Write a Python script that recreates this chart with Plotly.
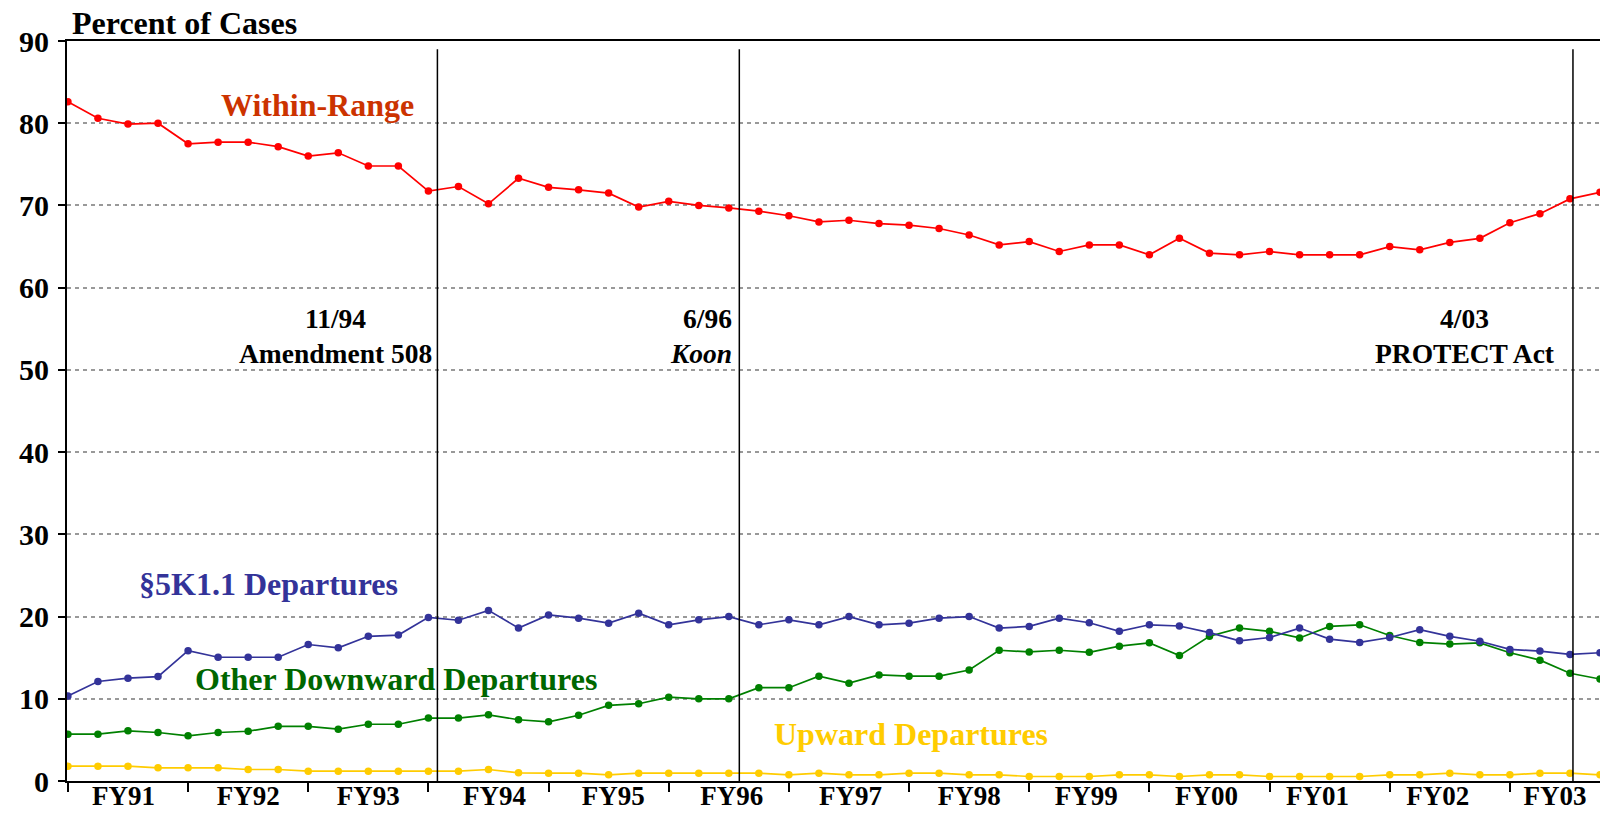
import plotly.graph_objects as go

fiscal_years = ["FY91", "FY92", "FY93", "FY94", "FY95", "FY96", "FY97",
                "FY98", "FY99", "FY00", "FY01", "FY02", "FY03"]
quarters_per_year = 4
quarter_index = list(range(len(fiscal_years) * quarters_per_year))
# positions (in quarters) where the fiscal-year labels sit
year_label_pos = [1.85, 6.0, 10.0, 14.2, 18.15, 22.1, 26.05, 30.0, 33.9, 37.9, 41.6, 45.6, 49.5]
year_bounds = [i * quarters_per_year for i in range(len(fiscal_years))]

within_range = [82.6, 80.6, 79.9, 80.0, 77.5, 77.7, 77.7, 77.15, 76.0, 76.4, 74.8, 74.8,
                71.75, 72.3, 70.2, 73.3, 72.2, 71.9, 71.5, 69.8, 70.5, 70.0, 69.7, 69.3,
                68.75, 68.0, 68.2, 67.8, 67.6, 67.2, 66.4, 65.2, 65.6, 64.4, 65.2, 65.2,
                64.0, 66.0, 64.2, 64.0, 64.4, 64.0, 64.0, 64.0, 65.0, 64.6, 65.5, 66.0,
                67.9, 69.0, 70.8, 71.6]
sk_departures = [10.33, 12.1, 12.5, 12.7, 15.85, 15.05, 15.05, 15.05, 16.6, 16.2, 17.6, 17.75,
                 19.9, 19.55, 20.75, 18.6, 20.2, 19.8, 19.2, 20.4, 19.0, 19.6, 20.0, 19.0,
                 19.6, 19.0, 20.0, 19.0, 19.2, 19.8, 20.0, 18.6, 18.8, 19.8, 19.25, 18.2,
                 19.0, 18.85, 18.05, 17.05, 17.45, 18.6, 17.25, 16.85, 17.45, 18.4, 17.6, 17.0,
                 16.0, 15.8, 15.4, 15.6]
other_downward = [5.7, 5.7, 6.1, 5.9, 5.5, 5.9, 6.05, 6.65, 6.65, 6.3, 6.9, 6.9,
                  7.65, 7.65, 8.05, 7.45, 7.2, 8.0, 9.2, 9.4, 10.2, 10.0, 10.0, 11.35,
                  11.35, 12.75, 11.9, 12.9, 12.75, 12.75, 13.5, 15.9, 15.7, 15.9, 15.65, 16.4,
                  16.8, 15.25, 17.6, 18.6, 18.2, 17.4, 18.8, 19.0, 17.7, 16.85, 16.65, 16.8,
                  15.6, 14.7, 13.1, 12.4]
upward = [1.8, 1.8, 1.8, 1.6, 1.6, 1.6, 1.4, 1.4, 1.2, 1.2, 1.2, 1.2,
          1.2, 1.2, 1.4, 1.0, 0.95, 0.95, 0.75, 0.95, 0.95, 0.95, 0.95, 0.95,
          0.75, 0.95, 0.75, 0.75, 0.95, 0.95, 0.75, 0.75, 0.55, 0.55, 0.55, 0.75,
          0.75, 0.55, 0.75, 0.75, 0.55, 0.55, 0.55, 0.55, 0.75, 0.75, 0.95, 0.75,
          0.75, 0.95, 0.95, 0.75]

event_positions = [12.3, 22.35, 50.1]
event_dates = ["11/94", "6/96", "4/03"]
event_names = ["Amendment 508", "Koon", "PROTECT Act"]

FONT = "Liberation Serif, Times New Roman, serif"

fig = go.Figure()
series = [
    (upward, "#FFCC00", "Upward Departures"),
    (other_downward, "#008000", "Other Downward Departures"),
    (sk_departures, "#333399", "§5K1.1 Departures"),
    (within_range, "#FF0000", "Within-Range"),
]
for vals, col, name in series:
    fig.add_trace(go.Scatter(x=quarter_index, y=vals, mode="lines+markers", name=name,
                             line=dict(color=col, width=1.7),
                             marker=dict(color=col, size=7.5), showlegend=False))

for xp in event_positions:
    fig.add_shape(type="line", xref="x", yref="y", x0=xp, x1=xp, y0=0, y1=89,
                  line=dict(color="black", width=1.5), layer="above")

ann_font = dict(family=FONT, size=27.5, color="black", weight="bold")
fig.add_annotation(x=8.92, y=56.2, text=event_dates[0], showarrow=False, font=ann_font)
fig.add_annotation(x=8.92, y=52.0, text=event_names[0], showarrow=False, font=ann_font)
fig.add_annotation(x=22.17, y=56.2, text=event_dates[1], showarrow=False, font=ann_font, xanchor="right")
fig.add_annotation(x=22.17, y=52.0, text=event_names[1], showarrow=False,
                   font=dict(family=FONT, size=27.5, color="black", weight="bold", style="italic"),
                   xanchor="right")
fig.add_annotation(x=46.5, y=56.2, text=event_dates[2], showarrow=False, font=ann_font)
fig.add_annotation(x=46.5, y=52.0, text=event_names[2], showarrow=False, font=ann_font)

lab = lambda c: dict(family=FONT, size=32, color=c, weight="bold")
fig.add_annotation(x=8.32, y=82.2, text="Within-Range", showarrow=False, font=lab("#CC3300"))
fig.add_annotation(x=6.69, y=24.0, text="§5K1.1 Departures", showarrow=False, font=lab("#333399"))
fig.add_annotation(x=10.92, y=12.4, text="Other Downward Departures", showarrow=False, font=lab("#006600"))
fig.add_annotation(x=28.06, y=5.7, text="Upward Departures", showarrow=False, font=lab("#FFCC00"))

fig.add_annotation(xref="paper", yref="paper", x=0.002, y=1.025, xanchor="left", yanchor="middle",
                   text="Percent of Cases", showarrow=False,
                   font=dict(family=FONT, size=32, color="black", weight="bold"))

fig.update_layout(
    width=1600, height=813,
    margin=dict(l=67, r=0, t=41, b=32),
    plot_bgcolor="white", paper_bgcolor="white",
    font=dict(family=FONT, color="black"),
    xaxis=dict(range=[-0.03, 51], tickmode="array", tickvals=year_label_pos, ticktext=fiscal_years,
               ticks="", ticklen=0, showgrid=False, zeroline=False, automargin=False,
               showline=True, linecolor="black", linewidth=2, mirror=True,
               ticklabelstandoff=-10,
               tickfont=dict(family=FONT, size=27, color="black", weight="bold"),
               minor=dict(tickmode="array", tickvals=year_bounds, ticks="outside",
                          ticklen=9, tickwidth=1.5, tickcolor="black", showgrid=False)),
    yaxis=dict(range=[0, 90], dtick=10, tick0=0, showgrid=True, gridcolor="#999999",
               griddash="4px,4px", gridwidth=1.5, zeroline=False, automargin=False,
               showline=True, linecolor="black", linewidth=2,
               ticks="outside", ticklen=7, tickcolor="black", tickwidth=1.5,
               ticklabelstandoff=3,
               tickfont=dict(family=FONT, size=30, color="black", weight="bold")),
)

fig.write_html("out.html", config={"displayModeBar": False},
               post_script="document.body.style.margin='0';")
